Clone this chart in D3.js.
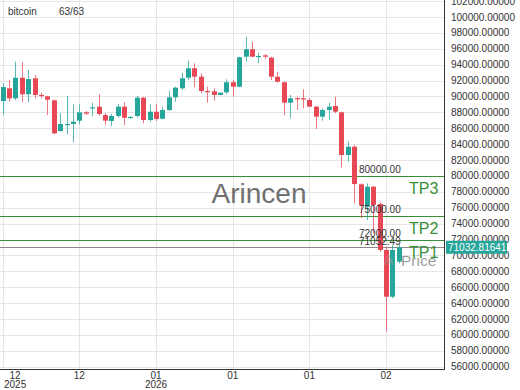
<!DOCTYPE html>
<html>
<head>
<meta charset="utf-8">
<script src="https://cdn.jsdelivr.net/npm/d3@7"></script>
<style>
  body { margin: 0; background: #fff; }
  svg { display: block; font-family: "Liberation Sans", Arial, sans-serif; }
</style>
</head>
<body>
<div id="chart"></div>
<script>
// candle values (63 candles)
var opens  = [89430,91030,89770,92360,90280,92290,90200,90020,89520,85660,86500,86540,86960,88010,88640,88720,87670,86920,87550,88720,87330,87550,89850,87040,88090,87200,88300,89900,91030,92360,93550,92490,90690,90650,90190,90530,91790,91230,95010,95940,95010,95170,94880,92490,91790,89220,89800,89770,89560,88720,87460,88300,88800,88010,82640,83680,78950,76140,78650,76480,70690,64810,69220];
var highs  = [91700,92080,94380,94300,93330,92700,90480,90100,89600,87890,90060,89020,89020,88180,89220,90280,87890,87800,89060,89270,87550,90060,89940,89020,89020,88720,90730,91230,92990,94500,94180,92920,91230,91030,90520,92160,92080,95010,97520,96890,95510,95350,95010,93040,91860,90190,89970,90910,89800,88800,88520,89220,89970,88100,84310,83900,79080,79080,78780,76640,71100,71320,71400];
var lows   = [87670,89350,89560,89270,89270,89770,89770,87670,85240,85570,85240,84240,86500,87670,87550,87550,86410,86290,87330,86410,87250,87330,86630,86830,86920,87130,88180,89310,90820,92080,91160,90400,89220,89470,90150,90310,89970,91160,94380,94930,94180,94760,92080,91740,87670,87260,88300,88520,88650,85910,86960,87040,87890,81090,81800,76560,74680,74460,72790,70440,60410,64610,69000];
var closes = [91190,89770,92360,90280,92200,90190,90050,89600,85370,86540,86540,86830,88010,87840,88640,87800,86960,87550,88720,87330,87420,89850,87040,88090,87170,88300,89900,91110,92290,93550,92490,90690,90570,90190,90480,91790,91230,94930,95940,95010,95100,95010,92490,91860,89220,89770,89700,89650,88720,87460,88300,88720,88090,82640,83680,78990,76350,78650,76350,70690,64810,70690,71032.81641];

// axis ticks
var yTicks = [56000,58000,60000,62000,64000,66000,68000,70000,72000,74000,76000,78000,80000,82000,84000,86000,88000,90000,92000,94000,96000,98000,100000,102000];
var xTickIndex = [0,12,24,36,48,60];
var xTickMonth = ["12","12","01","01","01","02"];
var xTickYear  = ["2025","","2026","","",""];

// levels drawn across the chart
var levelValues = [80000,75000,72000];
var levelNames  = ["TP3","TP2","TP1"];
var entryValue  = 71052.49;
var lastPrice   = 71032.81641;

var width = 520, height = 390;
var plotW = 444, plotH = 369;
var green = "#26a69a", red = "#e84855", tpGreen = "#3a8f3a";

var svg = d3.select("#chart")
            .append("svg")
            .attr("width", width)
            .attr("height", height);

var x = d3.scaleLinear().domain([-0.42, 69.06]).range([0, plotW]);
var y = d3.scaleLinear().domain([55718, 102139]).range([plotH, 0]);

// grid
svg.append("g")
   .selectAll("line")
   .data(yTicks)
   .join("line")
   .attr("x1", 0)
   .attr("x2", plotW)
   .attr("y1", function(d){ return Math.round(y(d)) + 0.5; })
   .attr("y2", function(d){ return Math.round(y(d)) + 0.5; })
   .attr("stroke", "#e6e6e6");

svg.append("g")
   .selectAll("line")
   .data(xTickIndex)
   .join("line")
   .attr("x1", function(d){ return Math.round(x(d)) + 0.5; })
   .attr("x2", function(d){ return Math.round(x(d)) + 0.5; })
   .attr("y1", 0)
   .attr("y2", plotH)
   .attr("stroke", "#e6e6e6");

// watermark
svg.append("text")
   .attr("x", 259)
   .attr("y", 203)
   .attr("text-anchor", "middle")
   .attr("font-size", 28)
   .attr("fill", "#707070")
   .text("Arincen");

// level lines
svg.append("g")
   .selectAll("line")
   .data(levelValues)
   .join("line")
   .attr("x1", 0)
   .attr("x2", plotW)
   .attr("y1", function(d){ return Math.round(y(d)) + 0.5; })
   .attr("y2", function(d){ return Math.round(y(d)) + 0.5; })
   .attr("stroke", tpGreen);

svg.append("line")
   .attr("x1", 0)
   .attr("x2", plotW)
   .attr("y1", Math.round(y(entryValue)) + 0.5)
   .attr("y2", Math.round(y(entryValue)) + 0.5)
   .attr("stroke", "#8a8a8a");

// candles
var idx = d3.range(opens.length);
var candles = svg.append("g");

candles.selectAll(".wick")
   .data(idx)
   .join("line")
   .attr("class", "wick")
   .attr("x1", function(i){ return Math.round(x(i)) + 0.5; })
   .attr("x2", function(i){ return Math.round(x(i)) + 0.5; })
   .attr("y1", function(i){ return y(highs[i]); })
   .attr("y2", function(i){ return y(lows[i]); })
   .attr("stroke", function(i){ return closes[i] >= opens[i] ? green : red; })
   .attr("stroke-opacity", 0.75);

candles.selectAll(".body")
   .data(idx)
   .join("rect")
   .attr("class", "body")
   .attr("x", function(i){ return Math.round(x(i)) + 0.5 - 2.5; })
   .attr("width", 5)
   .attr("y", function(i){ return y(Math.max(opens[i], closes[i])); })
   .attr("height", function(i){ return Math.max(1.2, Math.abs(y(opens[i]) - y(closes[i]))); })
   .attr("fill", function(i){ return closes[i] >= opens[i] ? green : red; });

// level labels
svg.append("g")
   .selectAll("text")
   .data(levelValues)
   .join("text")
   .attr("x", 359)
   .attr("y", function(d){ return y(d) - 3; })
   .attr("font-size", 10)
   .attr("fill", "#333")
   .text(function(d){ return d.toFixed(2); });

svg.append("text")
   .attr("x", 359)
   .attr("y", y(entryValue) - 2.5)
   .attr("font-size", 10)
   .attr("fill", "#333")
   .text(entryValue.toFixed(2));

svg.append("g")
   .selectAll("text")
   .data(levelValues)
   .join("text")
   .attr("x", 409)
   .attr("y", function(d){ return y(d) + 18; })
   .attr("font-size", 16)
   .attr("fill", tpGreen)
   .text(function(d, i){ return levelNames[i]; });

// "Price" tag
svg.append("text")
   .attr("x", 384)
   .attr("y", 265)
   .attr("font-size", 14)
   .attr("fill", "#9a9a9a")
   .attr("fill-opacity", 0.6)
   .text("A");

svg.append("text")
   .attr("x", 401)
   .attr("y", 266)
   .attr("font-size", 15.5)
   .attr("fill", "#8a8a8a")
   .attr("fill-opacity", 0.85)
   .text("Price");

// axes lines
svg.append("line")
   .attr("x1", plotW + 0.5).attr("x2", plotW + 0.5)
   .attr("y1", 0).attr("y2", plotH + 1)
   .attr("stroke", "#333");

svg.append("line")
   .attr("x1", 0).attr("x2", plotW + 1)
   .attr("y1", plotH + 0.5).attr("y2", plotH + 0.5)
   .attr("stroke", "#333");

// right tick labels
svg.append("g")
   .selectAll("text")
   .data(yTicks)
   .join("text")
   .attr("x", 451)
   .attr("y", function(d){ return y(d); })
   .attr("dy", "0.35em")
   .attr("font-size", 10)
   .attr("fill", "#333")
   .text(function(d){ return d.toFixed(5); });

// last price tag
svg.append("rect")
   .attr("x", 446)
   .attr("y", y(lastPrice) - 6.5)
   .attr("width", 61)
   .attr("height", 13)
   .attr("fill", green);

svg.append("text")
   .attr("x", 448)
   .attr("y", y(lastPrice))
   .attr("dy", "0.35em")
   .attr("font-size", 10)
   .attr("fill", "#fff")
   .text(lastPrice.toFixed(5));

// bottom tick labels
xTickIndex.forEach(function(d, i){
  var cx = x(d);
  var g = svg.append("g");
  var t1 = g.append("text")
     .attr("x", cx).attr("y", 378.5)
     .attr("text-anchor", "middle")
     .attr("font-size", 10).attr("fill", "#333")
     .text(xTickMonth[i]);
  if (xTickYear[i]) {
    var t2 = g.append("text")
       .attr("x", cx).attr("y", 387.5)
       .attr("text-anchor", "middle")
       .attr("font-size", 10).attr("fill", "#333")
       .text(xTickYear[i]);
    var half = t2.node().getComputedTextLength() / 2;
    if (cx - half < 4) {
      t1.attr("x", 4 + half);
      t2.attr("x", 4 + half);
    }
  }
});

// legend
svg.append("text")
   .attr("x", 8).attr("y", 15)
   .attr("font-size", 10).attr("fill", "#333")
   .text("bitcoin");

svg.append("text")
   .attr("x", 59).attr("y", 15)
   .attr("font-size", 10).attr("fill", "#333")
   .text(closes.length + "/" + closes.length);
</script>
</body>
</html>
